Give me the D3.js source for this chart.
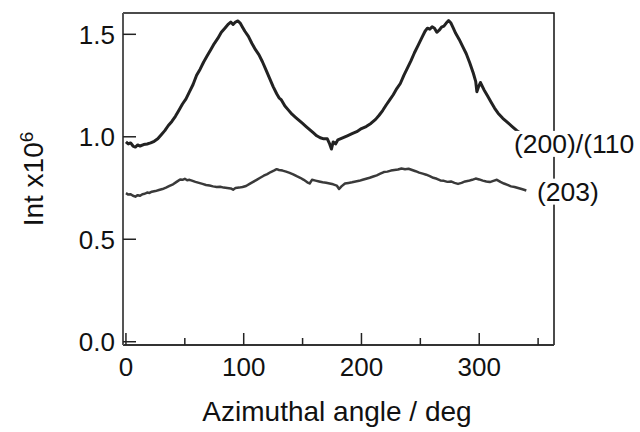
<!DOCTYPE html>
<html>
<head>
<meta charset="utf-8">
<script src="https://cdn.jsdelivr.net/npm/d3@7"></script>
<style>
  body { margin: 0; background: #fff; }
  svg { display: block; overflow: hidden; }
  text { font-family: "Liberation Sans", Arial, sans-serif; fill: #111; }
</style>
</head>
<body>
<script>
// (200)/(110) reflection, azimuthal scan
var upperAngle = [0, 2, 4, 6, 8, 10, 12, 15, 18, 21, 24, 27, 30, 33, 36, 39, 42, 45, 48, 51, 54, 57, 60, 63, 66, 69, 72, 75, 78, 81, 84, 87, 89, 91, 93, 95, 97, 99, 101, 104, 107, 110, 113, 116, 119, 122, 125, 128, 130, 132, 135, 138, 141, 144, 147, 150, 153, 156, 159, 162, 165, 168, 171, 173, 174.5, 176, 178, 180, 184, 188, 192, 196, 200, 204, 208, 212, 215, 218, 221, 224, 227, 230, 233, 236, 239, 242, 245, 248, 251, 254, 256, 258, 260, 262, 264, 266, 268, 270, 272, 274, 276, 278, 280, 283, 286, 289, 292, 295, 297, 298, 299.5, 301, 304, 307, 310, 313, 316, 320, 324, 328, 332, 336];
var upperInt = [0.975, 0.965, 0.97, 0.955, 0.95, 0.96, 0.955, 0.962, 0.965, 0.97, 0.978, 0.99, 1.01, 1.03, 1.055, 1.075, 1.1, 1.13, 1.16, 1.185, 1.22, 1.255, 1.3, 1.33, 1.365, 1.395, 1.425, 1.455, 1.48, 1.51, 1.53, 1.55, 1.56, 1.548, 1.56, 1.565, 1.555, 1.535, 1.515, 1.49, 1.455, 1.425, 1.4, 1.365, 1.325, 1.285, 1.245, 1.21, 1.19, 1.18, 1.15, 1.13, 1.11, 1.095, 1.08, 1.065, 1.05, 1.035, 1.02, 1.005, 0.995, 0.99, 0.99, 0.965, 0.94, 0.975, 0.965, 0.985, 0.995, 1.005, 1.015, 1.025, 1.04, 1.05, 1.065, 1.085, 1.105, 1.128, 1.155, 1.18, 1.205, 1.235, 1.26, 1.3, 1.335, 1.37, 1.41, 1.445, 1.48, 1.515, 1.53, 1.525, 1.537, 1.53, 1.51, 1.52, 1.535, 1.54, 1.555, 1.567, 1.555, 1.53, 1.505, 1.475, 1.44, 1.405, 1.36, 1.31, 1.27, 1.22, 1.245, 1.265, 1.23, 1.2, 1.17, 1.14, 1.115, 1.09, 1.07, 1.05, 1.03, 1.015];

// (203) reflection
var lowerAngle = [0, 2, 4, 6, 8, 10, 12, 14, 16, 18, 20, 22, 25, 28, 31, 34, 37, 40, 43, 46, 48, 50, 52, 54, 56, 59, 62, 65, 68, 71, 74, 77, 80, 83, 86, 89, 91, 93, 96, 99, 102, 105, 108, 111, 114, 117, 120, 123, 126, 128, 130, 133, 136, 139, 142, 145, 148, 151, 154, 156, 158, 161, 164, 167, 170, 173, 176, 179, 181, 183, 186, 189, 192, 195, 198, 201, 204, 207, 210, 213, 216, 219, 222, 225, 228, 231, 234, 237, 240, 243, 246, 249, 252, 255, 258, 261, 264, 267, 270, 273, 276, 279, 282, 285, 288, 291, 294, 297, 300, 303, 306, 309, 312, 315, 318, 321, 324, 327, 330, 333, 336, 340];
var lowerInt = [0.725, 0.718, 0.72, 0.712, 0.708, 0.715, 0.712, 0.72, 0.722, 0.728, 0.726, 0.732, 0.735, 0.74, 0.745, 0.752, 0.76, 0.768, 0.78, 0.792, 0.79, 0.795, 0.788, 0.79, 0.786, 0.78, 0.775, 0.77, 0.765, 0.762, 0.758, 0.755, 0.756, 0.752, 0.75, 0.748, 0.742, 0.75, 0.752, 0.755, 0.76, 0.77, 0.78, 0.79, 0.8, 0.81, 0.818, 0.828, 0.836, 0.842, 0.838, 0.835, 0.83, 0.824, 0.817, 0.808, 0.8, 0.79, 0.778, 0.772, 0.79, 0.786, 0.782, 0.778, 0.776, 0.772, 0.768, 0.762, 0.745, 0.758, 0.772, 0.775, 0.778, 0.782, 0.785, 0.79, 0.795, 0.8, 0.806, 0.812, 0.82, 0.828, 0.83, 0.835, 0.838, 0.84, 0.845, 0.842, 0.844, 0.838, 0.832, 0.825, 0.82, 0.815, 0.808, 0.8, 0.795, 0.787, 0.785, 0.78, 0.782, 0.775, 0.77, 0.775, 0.782, 0.785, 0.79, 0.796, 0.792, 0.786, 0.782, 0.779, 0.785, 0.79, 0.78, 0.772, 0.765, 0.758, 0.755, 0.75, 0.745, 0.738];

var xMajor = [0, 100, 200, 300];
var xMinor = [50, 150, 250, 350];
var yTicks = [0.0, 0.5, 1.0, 1.5];
// first label runs off the right edge in the original, shown as far as it is visible
var seriesLabels = ["(200)/(110", "(203)"];

(function () {
    var width = 640, height = 432;
    var pLeft = 123, pRight = 554, pTop = 13, pBottom = 345;
    var fs = "26px";

    var x = d3.scaleLinear().domain([-2.5, 363.5]).range([pLeft, pRight]);
    var y = d3.scaleLinear().domain([-0.016, 1.604]).range([pBottom, pTop]);

    var svg = d3.select("body").append("svg")
        .attr("width", width)
        .attr("height", height);

    var line = d3.line()
        .x(function (d) { return x(d[0]); })
        .y(function (d) { return y(d[1]); });

    // frame: top + right
    svg.append("path")
        .attr("d", "M" + pLeft + "," + pTop + "H" + pRight + "V" + pBottom)
        .attr("fill", "none")
        .attr("stroke", "#111")
        .attr("stroke-width", 1.5);

    // bottom axis, ticks pointing inward
    var xAxis = svg.append("g").attr("transform", "translate(0," + pBottom + ")");
    xAxis.append("line")
        .attr("x1", pLeft).attr("x2", pRight)
        .attr("stroke", "#333").attr("stroke-width", 2);
    xAxis.selectAll(".major").data(xMajor).enter().append("line")
        .attr("x1", function (d) { return x(d); })
        .attr("x2", function (d) { return x(d); })
        .attr("y1", 0).attr("y2", -12)
        .attr("stroke", "#222").attr("stroke-width", 1.5);
    xAxis.selectAll(".minor").data(xMinor).enter().append("line")
        .attr("x1", function (d) { return x(d); })
        .attr("x2", function (d) { return x(d); })
        .attr("y1", 0).attr("y2", -7)
        .attr("stroke", "#222").attr("stroke-width", 1.5);
    xAxis.selectAll("text").data(xMajor).enter().append("text")
        .attr("x", function (d) { return x(d); })
        .attr("y", 31)
        .attr("text-anchor", "middle")
        .style("font-size", fs)
        .text(function (d) { return d; });

    // left axis
    var yAxis = svg.append("g");
    yAxis.append("line")
        .attr("x1", pLeft).attr("x2", pLeft)
        .attr("y1", pTop).attr("y2", pBottom)
        .attr("stroke", "#555").attr("stroke-width", 2);
    yAxis.selectAll(".tick").data(yTicks).enter().append("line")
        .attr("x1", pLeft).attr("x2", pLeft + 13)
        .attr("y1", function (d) { return y(d); })
        .attr("y2", function (d) { return y(d); })
        .attr("stroke", "#222").attr("stroke-width", 1.5);
    yAxis.selectAll("text").data(yTicks).enter().append("text")
        .attr("x", pLeft - 8)
        .attr("y", function (d) { return y(d); })
        .attr("dy", "0.36em")
        .attr("text-anchor", "end")
        .style("font-size", fs)
        .text(function (d) { return d3.format(".1f")(d); });

    // curves
    svg.append("path")
        .datum(d3.zip(upperAngle, upperInt))
        .attr("d", line)
        .attr("fill", "none")
        .attr("stroke", "#222")
        .attr("stroke-width", 3)
        .attr("stroke-linejoin", "round");

    svg.append("path")
        .datum(d3.zip(lowerAngle, lowerInt))
        .attr("d", line)
        .attr("fill", "none")
        .attr("stroke", "#3a3a3a")
        .attr("stroke-width", 2.5)
        .attr("stroke-linejoin", "round");

    // series labels with white boxes over the frame
    var labelPos = [[514, 0.968], [537, 0.735]];
    seriesLabels.forEach(function (s, i) {
        var g = svg.append("g")
            .attr("transform", "translate(" + labelPos[i][0] + "," + y(labelPos[i][1]) + ")");
        var t = g.append("text")
            .attr("dy", "0.36em")
            .style("font-size", "26.5px")
            .text(s);
        var bb = t.node().getBBox();
        g.insert("rect", "text")
            .attr("x", bb.x - 1).attr("y", bb.y + 2)
            .attr("width", bb.width + 2).attr("height", bb.height - 4)
            .attr("fill", "#fff");
    });

    // axis titles
    svg.append("text")
        .attr("x", 337)
        .attr("y", 421)
        .attr("text-anchor", "middle")
        .style("font-size", "28px")
        .text("Azimuthal angle / deg");

    var yt = svg.append("text")
        .attr("transform", "translate(43,179) rotate(-90)")
        .attr("text-anchor", "middle")
        .style("font-size", "28px");
    yt.append("tspan").text("Int x10");
    yt.append("tspan").attr("dy", "-0.55em").style("font-size", "19px").text("6");
})();
</script>
</body>
</html>
